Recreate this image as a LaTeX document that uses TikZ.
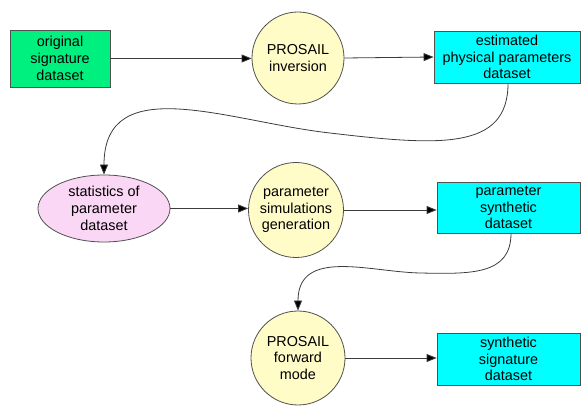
\documentclass[tikz,border=0pt]{standalone}
\usepackage{fontspec}
\setmainfont{Liberation Sans}
\usetikzlibrary{shapes.geometric,arrows.meta}
\definecolor{boxgreen}{RGB}{0,240,128}
\definecolor{circyellow}{RGB}{255,252,200}
\definecolor{ellpink}{RGB}{250,215,245}
\definecolor{boxcyan}{RGB}{0,255,255}
\definecolor{edgegray}{RGB}{80,80,80}
\definecolor{linegray}{RGB}{60,60,60}
\tikzset{
  base/.style={draw=edgegray, line width=0.8pt, inner sep=0pt, align=center,
    font=\fontsize{14.4}{16.8}\selectfont},
  greenbox/.style={base, rectangle, fill=boxgreen},
  cyanbox/.style={base, rectangle, fill=boxcyan},
  proc/.style={base, circle, fill=circyellow},
  statell/.style={base, ellipse, fill=ellpink},
  conn/.style={draw=linegray, line width=0.8pt, -{Triangle[length=10pt,width=8pt,fill=black]}}
}
\begin{document}
\begin{tikzpicture}[x=1pt,y=-1pt]
\useasboundingbox (0,0) rectangle (582,406);
\node[greenbox, minimum width=100pt, minimum height=57pt] (orig) at (60,58.5) {original\\signature\\dataset};
\node[proc, minimum size=92pt] (inv) at (298,58) {PROSAIL\\inversion};
\node[cyanbox, minimum width=146pt, minimum height=52pt] (est) at (507,57) {estimated\\physical parameters\\dataset};
\node[statell, minimum width=132pt, minimum height=67pt] (stat) at (104,208.5) {statistics of\\parameter\\dataset};
\node[proc, minimum size=95pt] (sim) at (296,210) {parameter\\simulations\\generation};
\node[cyanbox, minimum width=143pt, minimum height=51pt] (psyn) at (508.5,207.5) {parameter\\synthetic\\dataset};
\node[proc, minimum size=94pt] (fwd) at (298,358) {PROSAIL\\forward\\mode};
\node[cyanbox, minimum width=143pt, minimum height=52pt] (ssyn) at (508.5,359) {synthetic\\signature\\dataset};

\coordinate (m1) at (330,133);
\coordinate (m2) at (420,273);

\draw[conn] (orig.east) -- (orig.east -| inv.west);
\draw[conn] (inv.east) -- (est.west);
\draw[conn] (stat.east) -- (stat.east -| sim.west);
\draw[conn] (sim.east) -- (sim.east -| psyn.west);
\draw[conn] (fwd.east) -- (fwd.east -| ssyn.west);
\draw[conn] ([xshift=1pt]est.south) .. controls ([xshift=1pt,yshift=-67pt]est.south) and (440,146) .. (m1)
  .. controls (230,122) and ([yshift=105pt]stat.north) .. (stat.north);
\draw[conn] ([xshift=2.5pt]psyn.south) .. controls ([xshift=2.5pt,yshift=-42pt]psyn.south) and (470,274) .. (m2)
  .. controls (370,272) and ([yshift=63pt]fwd.north) .. (fwd.north);
\end{tikzpicture}
\end{document}
